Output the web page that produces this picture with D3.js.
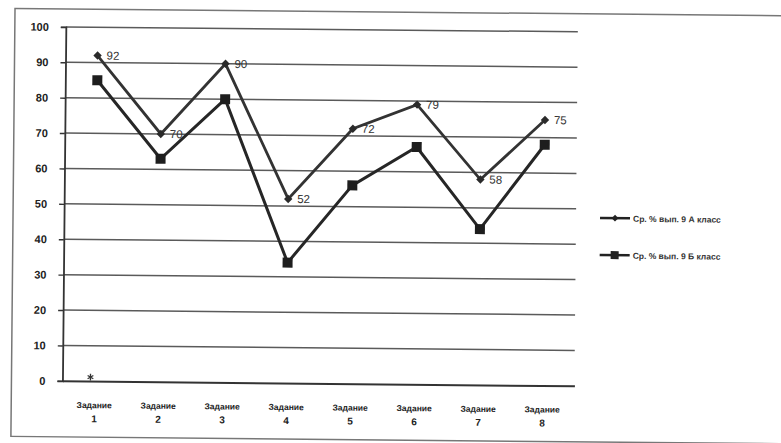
<!DOCTYPE html>
<html><head><meta charset="utf-8">
<script src="https://cdn.jsdelivr.net/npm/d3@7"></script>
<style>
html,body{margin:0;padding:0;background:#fff;}
svg{display:block;font-family:"Liberation Sans",Arial,sans-serif;}
</style></head>
<body>
<svg id="chart" width="781" height="443"></svg>
<script>
const categories = ["1","2","3","4","5","6","7","8"];
const catPrefix = "Задание";
const seriesA = [92, 70, 90, 52, 72, 79, 58, 75];
const seriesB = [85, 63, 80, 34, 56, 67, 44, 68];
const seriesC = [0];
const labelsA = ["92", "70", "90", "52", "72", "79", "58", "75"];
const yTicks = [0, 10, 20, 30, 40, 50, 60, 70, 80, 90, 100];
const legendNames = ["Ср. % вып. 9 А класс", "Ср. % вып. 9 Б класс"];

const svg = d3.select("#chart");
const g = svg.append("g").attr("transform", "rotate(0.55,390,220)");

g.append("rect").attr("x", 13).attr("y", 12).attr("width", 790).attr("height", 428)
  .attr("fill", "#fff").attr("stroke", "#777").attr("stroke-width", 1.5);

const x = d3.scaleBand().domain(categories).range([64, 576]).padding(0);
const y = d3.scaleLinear().domain([0, 100]).range([384, 30]);
const cx = c => x(c) + x.bandwidth() / 2;

// gridlines
g.append("g").selectAll("line").data(yTicks.filter(t => t > 0)).join("line")
  .attr("x1", 64).attr("x2", 576).attr("y1", d => y(d)).attr("y2", d => y(d))
  .attr("stroke", "#5a5a5a").attr("stroke-width", 1.5);

// y axis
const yAxis = g.append("g").attr("transform", "translate(64,0)")
  .call(d3.axisLeft(y).tickValues(yTicks).tickSize(5).tickFormat(d3.format("d")));
yAxis.select(".domain").attr("stroke", "#333").attr("stroke-width", 1.8);
yAxis.selectAll(".tick line").attr("stroke", "#333").attr("stroke-width", 1.4);
yAxis.selectAll("text").attr("fill", "#222").attr("font-size", 11).attr("font-weight", "bold").attr("x", -17);

// x axis
const xAxis = g.append("g").attr("transform", "translate(0,384)")
  .call(d3.axisBottom(x).tickSize(0).tickFormat(() => ""));
xAxis.select(".domain").attr("stroke", "#333").attr("stroke-width", 2);
xAxis.selectAll(".tick").each(function(d) {
  const t = d3.select(this).append("text").attr("fill", "#222").attr("font-size", 8.5)
    .attr("font-weight", "bold").attr("text-anchor", "middle");
  t.append("tspan").attr("x", 0).attr("y", 27).text(catPrefix);
  t.append("tspan").attr("x", 0).attr("y", 41).attr("font-size", 10).text(d);
});

const line = d3.line().x((d, i) => cx(categories[i])).y(d => y(d));

g.append("path").datum(seriesB).attr("d", line).attr("fill", "none")
  .attr("stroke", "#262626").attr("stroke-width", 3);
g.append("path").datum(seriesA).attr("d", line).attr("fill", "none")
  .attr("stroke", "#333").attr("stroke-width", 2.8);

// markers B (squares)
g.append("g").selectAll("rect").data(seriesB).join("rect")
  .attr("x", (d, i) => cx(categories[i]) - 5).attr("y", d => y(d) - 5)
  .attr("width", 10).attr("height", 10).attr("fill", "#1e1e1e");
// markers A (diamonds)
g.append("g").selectAll("path").data(seriesA).join("path")
  .attr("transform", (d, i) => `translate(${cx(categories[i])},${y(d)})`)
  .attr("d", d3.symbol(d3.symbolDiamond2, 45)).attr("fill", "#2a2a2a");
// marker C (star)
g.append("g").selectAll("path").data(seriesC).join("path")
  .attr("transform", (d, i) => `translate(${cx(categories[i]) - 4},${y(d) - 4})`)
  .attr("d", d3.symbol(d3.symbolAsterisk, 30)).attr("fill", "none")
  .attr("stroke", "#333").attr("stroke-width", 1.3);

// data labels A
g.append("g").selectAll("text").data(seriesA).join("text")
  .attr("x", (d, i) => cx(categories[i]) + 9).attr("y", d => y(d) + 4)
  .attr("font-size", 11.5).attr("fill", "#333").text((d, i) => labelsA[i]);

// legend
const leg = g.append("g").attr("transform", "translate(600,216)");
leg.selectAll("g").data(legendNames).join("g")
  .attr("transform", (d, i) => `translate(0,${i * 37})`)
  .each(function(d, i) {
    const s = d3.select(this);
    s.append("line").attr("x1", 0).attr("x2", 30).attr("y1", 0).attr("y2", 0)
      .attr("stroke", "#222").attr("stroke-width", 2.4);
    if (i === 0) {
      s.append("path").attr("transform", "translate(15,0)")
        .attr("d", d3.symbol(d3.symbolDiamond2, 30)).attr("fill", "#222");
    } else {
      s.append("rect").attr("x", 11).attr("y", -4).attr("width", 8).attr("height", 8).attr("fill", "#222");
    }
    s.append("text").attr("x", 33).attr("y", 3.5).attr("font-size", 8.5)
      .attr("font-weight", "bold").attr("fill", "#333").text(d);
  });
</script>
</body></html>
